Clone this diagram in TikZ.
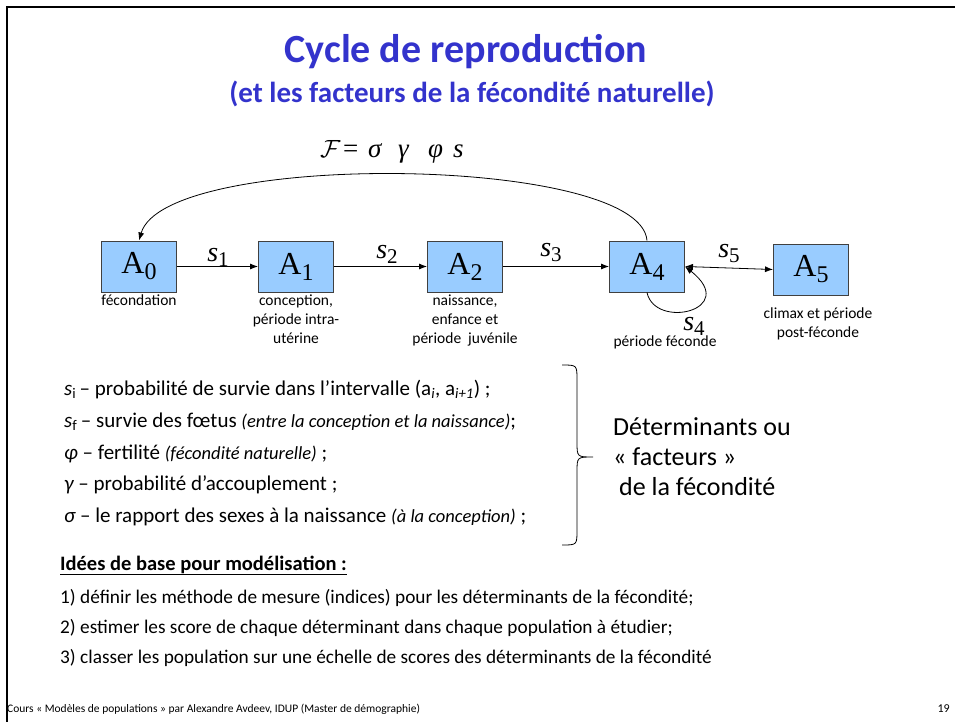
\documentclass[tikz,border=0pt]{standalone}
\usepackage{fontspec}
\setmainfont{Carlito}
\newfontfamily\tms{Liberation Serif}
\usetikzlibrary{arrows.meta}
\definecolor{titleblue}{RGB}{51,51,204}
\definecolor{boxblue}{RGB}{153,204,255}
\definecolor{boxline}{RGB}{64,64,64}
\newcommand\fs[1]{\fontsize{#1}{#1}\selectfont}
\newcommand\Alab[1]{{\tms\fs{32}A\raisebox{-6pt}{\fs{24}#1}}}
\newcommand\slab[1]{{\tms\fs{28}\itshape s\raisebox{-5pt}{\upshape\fs{21}#1}}}
\newcommand\itl[1]{{\itshape\fs{18.5}#1}}
\tikzset{
  stage/.style={draw=boxline, fill=boxblue, line width=1pt, minimum width=75pt, minimum height=51pt, inner sep=0pt},
  lab/.style={inner sep=0pt, anchor=base, font=\fs{15.5}},
  arr/.style={-{Latex[length=8pt,width=6pt]}, line width=0.8pt},
  txt/.style={inner sep=0pt, anchor=base west, font=\fs{21}},
  big/.style={inner sep=0pt, anchor=base west, font=\fs{26}},
  low/.style={inner sep=0pt, anchor=base west, font=\fs{19.3}},
}
\begin{document}
\begin{tikzpicture}[x=1pt,y=-1pt]
\useasboundingbox (0,0) rectangle (955,722);
\draw[line width=2.5pt] (7,722) -- (7,7) -- (955,7);

% titles
\node[inner sep=0pt, anchor=base, text=titleblue, font=\fs{40}\bfseries] (title) at (466,63) {Cycle de reproduction};
\node[inner sep=0pt, anchor=base, text=titleblue, font=\fs{29}\bfseries] (subtitle) at (472,103) {(et les facteurs de la fécondité naturelle)};

% formula
\node[inner sep=0pt, anchor=base west, font=\tms\fs{27}\itshape] (formula) at (320,158) {\makebox[23pt][l]{$\mathcal{F}$}\makebox[25pt][l]{\upshape =}\makebox[30pt][l]{σ}\makebox[30pt][l]{γ}\makebox[25pt][l]{φ}s};

% stages
\node[stage] (A0) at (139,266.5) {\Alab{0}};
\node[stage] (A1) at (296,266.5) {\Alab{1}};
\node[stage] (A2) at (465,266.5) {\Alab{2}};
\node[stage] (A4) at (647,266.5) {\Alab{4}};
\node[stage] (A5) at (811,269.5) {\Alab{5}};

% connectors
\draw[arr] (A0) -- (A1);
\draw[arr] (A1) -- (A2);
\draw[arr] (A2) -- (A4);
\draw[{Latex[length=8pt,width=6pt]}-{Latex[length=8pt,width=6pt]}, line width=0.8pt] (A4.east) -- (A5.west);
\draw[arr] (A4.south) .. controls (655,330) and (740,310) .. (A4.east);
\draw[arr] (A4.north) .. controls (640,155) and (165,150) .. (A0.north);

% transition labels
\node[inner sep=0pt] (s1) at (218,257) {\slab{1}};
\node[inner sep=0pt] (s2) at (387,254) {\slab{2}};
\node[inner sep=0pt] (s3) at (551,253) {\slab{3}};
\node[inner sep=0pt] (s5) at (729,254) {\slab{5}};

% stage descriptions
\node[lab] (d0) at (139,305) {fécondation};
\node[lab] (d1a) at (296,305) {conception,};
\node[lab] (d1b) at (296,324) {période intra-};
\node[lab] (d1c) at (296,343) {utérine};
\node[lab] (d2a) at (465,305) {naissance,};
\node[lab] (d2b) at (465,324) {enfance et};
\node[lab] (d2c) at (465,343) {période\ \ juvénile};
\node[lab] (d4) at (665,346) {période féconde};
\node[lab] (d5a) at (818,318) {climax et période};
\node[lab] (d5b) at (818,337) {post-féconde};
\node[inner sep=0pt] (s4) at (694,326) {\slab{4}};

% list
\node[txt] (l1) at (64,395) {{\itshape s}\textsubscript{i}\,– probabilité de survie dans l’intervalle (a\textsubscript{\itshape i}, a\textsubscript{\itshape i+1}) ;};
\node[txt] (l2) at (64,427) {{\itshape s}\textsubscript{f}\,– survie des fœtus \itl{(entre la conception et la naissance)};};
\node[txt] (l3) at (64,459) {{\itshape φ} – fertilité \itl{(fécondité naturelle)} ;};
\node[txt] (l4) at (64,490) {{\itshape γ} – probabilité d’accouplement ;};
\node[txt] (l5) at (64,522) {{\itshape σ} – le rapport des sexes à la naissance \itl{(à la conception)} ;};

% brace
\draw[line width=0.8pt] (562,365) .. controls (577,365) .. (577,380) -- (577,442) .. controls (577,457) .. (593,457) .. controls (577,457) .. (577,472) -- (577,530) .. controls (577,545) .. (562,545);

\node[big] (dt1) at (613,435) {Déterminants ou};
\node[big] (dt2) at (613,465) {« facteurs »};
\node[big] (dt3) at (619,495) {de la fécondité};

% bottom
\node[low, font=\fs{20.5}\bfseries] (head) at (60,570) {\underline{Idées de base pour modélisation :}};
\node[low] (b1) at (60,603) {1) définir les méthode de mesure (indices) pour les déterminants de la fécondité;};
\node[low] (b2) at (60,633) {2) estimer les score de chaque déterminant dans chaque population à étudier;};
\node[low] (b3) at (60,663) {3) classer les population sur une échelle de scores des déterminants de la fécondité};

\node[inner sep=0pt, anchor=base west, font=\fs{11.5}] (foot) at (7,712) {Cours « Modèles de populations » par Alexandre Avdeev, IDUP (Master de démographie)};
\node[inner sep=0pt, anchor=base east, font=\fs{12}] (page) at (950,712) {19};
\end{tikzpicture}
\end{document}
